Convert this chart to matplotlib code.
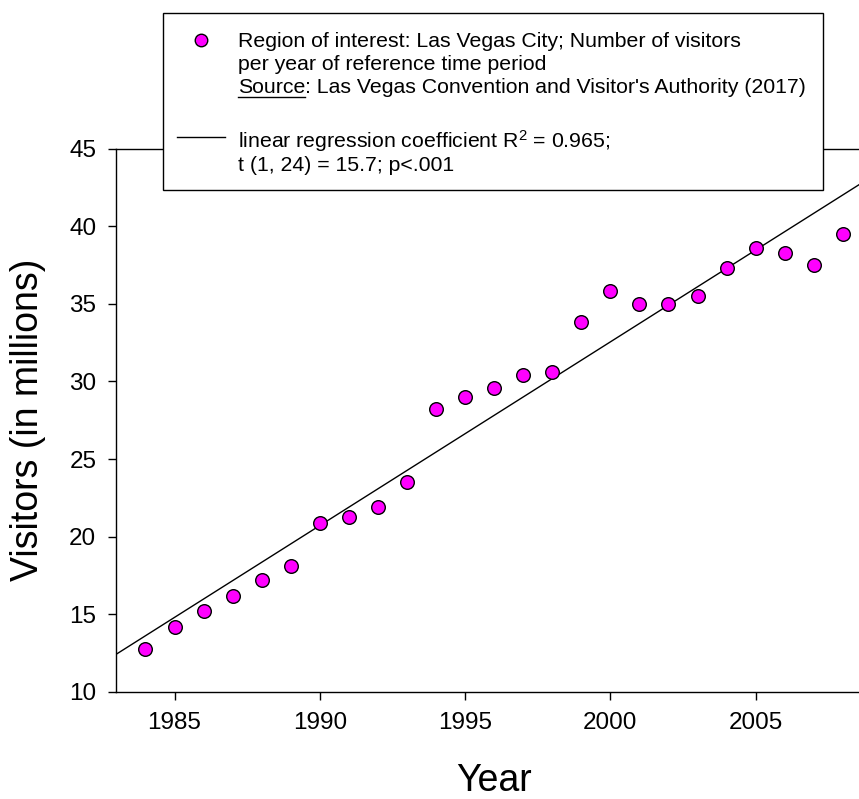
import numpy as np
import matplotlib
matplotlib.use("Agg")
import matplotlib.pyplot as plt
from matplotlib.patches import Rectangle
from matplotlib.lines import Line2D

plt.rcParams['font.family'] = ['Liberation Sans', 'DejaVu Sans']
plt.rcParams['mathtext.fontset'] = 'custom'
plt.rcParams['mathtext.rm'] = 'Liberation Sans'
plt.rcParams['mathtext.it'] = 'Liberation Sans:italic'

years = [1984, 1985, 1986, 1987, 1988, 1989, 1990, 1991, 1992, 1993, 1994, 1995,
         1996, 1997, 1998, 1999, 2000, 2001, 2002, 2003, 2004, 2005, 2006, 2007, 2008]
visitors = [12.8, 14.2, 15.2, 16.2, 17.2, 18.1, 20.9, 21.3, 21.9, 23.5, 28.2, 29.0,
            29.6, 30.4, 30.6, 33.8, 35.8, 35.0, 35.0, 35.5, 37.3, 38.6, 38.3, 37.5, 39.5]
x_ticks = [1985, 1990, 1995, 2000, 2005]
y_ticks = [10, 15, 20, 25, 30, 35, 40, 45]

W, H = 859, 799
fig = plt.figure(figsize=(W / 100, H / 100), dpi=100)

def fx(px):
    return px / W

def fy(py):
    return 1 - py / H

left, right = 116.4, 871.9
top, bottom = 148.5, 692.0
ax = fig.add_axes([fx(left), fy(bottom), (right - left) / W, (bottom - top) / H])

ax.set_xlim(1983, 2009)
ax.set_ylim(10, 45)

slope, intercept = np.polyfit(years, visitors, 1)
xl = np.array(ax.get_xlim())
ax.plot(xl, slope * xl + intercept, color='black', lw=1.0, zorder=2)
ax.plot(years, visitors, 'o', ms=9.8, mfc='#ff00ff', mec='black', mew=1.0,
        linestyle='none', zorder=3, clip_on=False)

ax.set_xticks(x_ticks)
ax.set_yticks(y_ticks)
ax.tick_params(direction='out', length=5.5, width=1.0, labelsize=17.5, pad=9,
               top=False, right=False)
for s in ['left', 'bottom', 'top']:
    ax.spines[s].set_linewidth(1.0)
ax.spines['right'].set_visible(False)

ax.set_xlabel('Year', fontsize=27, labelpad=21)
ax.set_ylabel('Visitors (in millions)', fontsize=27, labelpad=17)

# Legend box (drawn manually to reproduce layout)
bx0, by0, bx1, by1 = 162.5, 12.7, 823.0, 190.0
rect = Rectangle((fx(bx0), fy(by1)), (bx1 - bx0) / W, (by1 - by0) / H,
                 transform=fig.transFigure, facecolor='white', edgecolor='black',
                 lw=1.0, zorder=5)
fig.add_artist(rect)

fig.add_artist(Line2D([fx(200.5)], [fy(40.0)], marker='o', ms=9.0, mfc='#ff00ff',
                      mec='black', mew=1.0, transform=fig.transFigure, zorder=6))
fig.add_artist(Line2D([fx(176.7), fx(225)], [fy(136.7), fy(136.7)], color='black',
                      lw=1.0, transform=fig.transFigure, zorder=6))

fs = 15.3
tx = fx(238)
fig.text(tx, fy(46.7), 'Region of interest: Las Vegas City; Number of visitors',
         fontsize=fs, va='baseline', zorder=6)
fig.text(tx, fy(70.0), 'per year of reference time period',
         fontsize=fs, va='baseline', zorder=6)
t_src = fig.text(tx, fy(93.3), 'Source', fontsize=fs, va='baseline', zorder=6)
fig.canvas.draw()
r = fig.canvas.get_renderer()
bb = t_src.get_window_extent(renderer=r)
fig.text(bb.x1 / W, fy(93.3), ": Las Vegas Convention and Visitor's Authority (2017)",
         fontsize=fs, va='baseline', zorder=6)
fig.add_artist(Line2D([bb.x0 / W, bb.x1 / W], [fy(97.3), fy(97.3)], color='black',
                      lw=1.0, transform=fig.transFigure, zorder=6))
fig.text(tx, fy(147.3), 'linear regression coefficient R$^{2}$ = 0.965;',
         fontsize=fs, va='baseline', zorder=6)
fig.text(tx, fy(170.6), 't (1, 24) = 15.7; p<.001',
         fontsize=fs, va='baseline', zorder=6)

fig.savefig('out.png', dpi=100)
